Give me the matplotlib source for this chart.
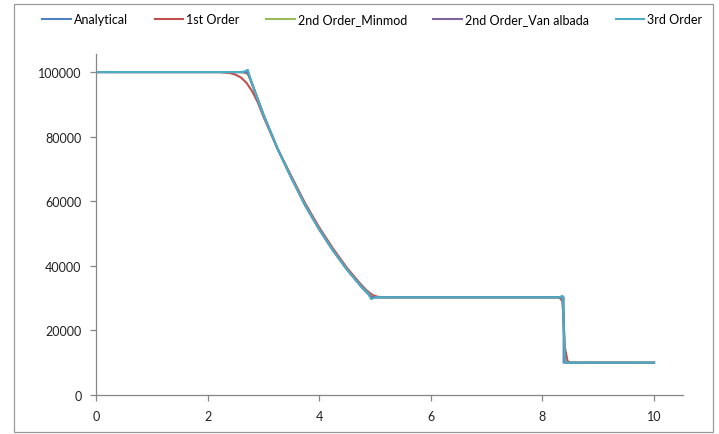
import matplotlib
matplotlib.use("Agg")
import matplotlib.pyplot as plt
from matplotlib.patches import Rectangle

plt.rcParams['font.family'] = ['Lato', 'DejaVu Sans']

# Analytical solution
x_exact = [0, 2.72, 3.0, 3.25, 3.5, 3.75, 4.0, 4.25, 4.5, 4.75, 4.93, 8.38, 8.38, 10]
p_exact = [100000, 100000, 86900, 76400, 67300, 58700, 51300, 44700, 38800, 33600,
           30250, 30250, 10000, 10000]

# 1st order scheme (smeared corners)
x_first = [0, 2.2, 2.4, 2.5, 2.6, 2.7, 2.8, 2.9, 3.0, 3.25, 3.5, 3.75, 4.0, 4.25, 4.5,
           4.75, 4.85, 4.95, 5.05, 5.2, 8.3, 8.36, 8.4, 8.45, 8.5, 10]
p_first = [100000, 100000, 99700, 99200, 98300, 96600, 94000, 90600, 86200, 76400,
           67800, 59300, 51900, 45300, 39300, 34200, 32400, 31000, 30400, 30250,
           30250, 29000, 15000, 10500, 10000, 10000]

# higher order schemes share the same sample points
x_high = [0, 2.55, 2.65, 2.72, 2.8, 3.0, 3.25, 3.5, 3.75, 4.0, 4.25, 4.5, 4.75, 4.88,
          4.93, 5.0, 5.1, 8.3, 8.36, 8.38, 8.40, 8.42, 10]
p_minmod = [100000, 100000, 99900, 99400, 96300, 86800, 76400, 67300, 58700, 51300,
            44700, 38800, 33700, 31700, 30600, 30300, 30250, 30250, 30250, 26000,
            12000, 10000, 10000]
p_vanalbada = [100000, 100000, 99950, 99700, 96200, 86800, 76400, 67300, 58700, 51300,
               44700, 38800, 33700, 31600, 30400, 30250, 30250, 30250, 30300, 24000,
               11000, 10000, 10000]
p_third = [100000, 100000, 100100, 100700, 96100, 86800, 76400, 67300, 58700, 51300,
           44700, 38800, 33600, 31400, 29700, 30200, 30250, 30250, 30700, 22000,
           10300, 10000, 10000]

series = [
    ("Analytical", x_exact, p_exact, "#4F81BD"),
    ("1st Order", x_first, p_first, "#C0504D"),
    ("2nd Order_Minmod", x_high, p_minmod, "#9BBB59"),
    ("2nd Order_Van albada", x_high, p_vanalbada, "#8064A2"),
    ("3rd Order", x_high, p_third, "#4BACC6"),
]

fig = plt.figure(figsize=(7.19, 4.35), dpi=100)
ax = fig.add_axes([0.1335, 0.0897, 0.8165, 0.7839])

for label, xs, ps, color in series:
    ax.plot(xs, ps, color=color, lw=1.5, label=label)

grey = "#868686"
ax.set_xlim(0, 10.52)
ax.set_ylim(0, 105600)
ax.set_xticks([0, 2, 4, 6, 8, 10])
ax.set_yticks([0, 20000, 40000, 60000, 80000, 100000])
for side in ("top", "right"):
    ax.spines[side].set_visible(False)
for side in ("left", "bottom"):
    ax.spines[side].set_color(grey)
    ax.spines[side].set_linewidth(0.9)
ax.tick_params(direction="out", length=4.5, width=0.9, color=grey,
               labelsize=9, labelcolor="#222222", pad=6)

fig.legend(loc="center", bbox_to_anchor=(0.518, 0.953), ncol=5, frameon=False,
           fontsize=9, handlelength=2.3, handletextpad=0.25, columnspacing=2.1)

# chart border
fig.patches.append(Rectangle((0.0195, 0.0046), 0.972, 0.984, transform=fig.transFigure,
                             fill=False, edgecolor="#9a9a9a", lw=0.9))

fig.savefig("out.png", dpi=100)
